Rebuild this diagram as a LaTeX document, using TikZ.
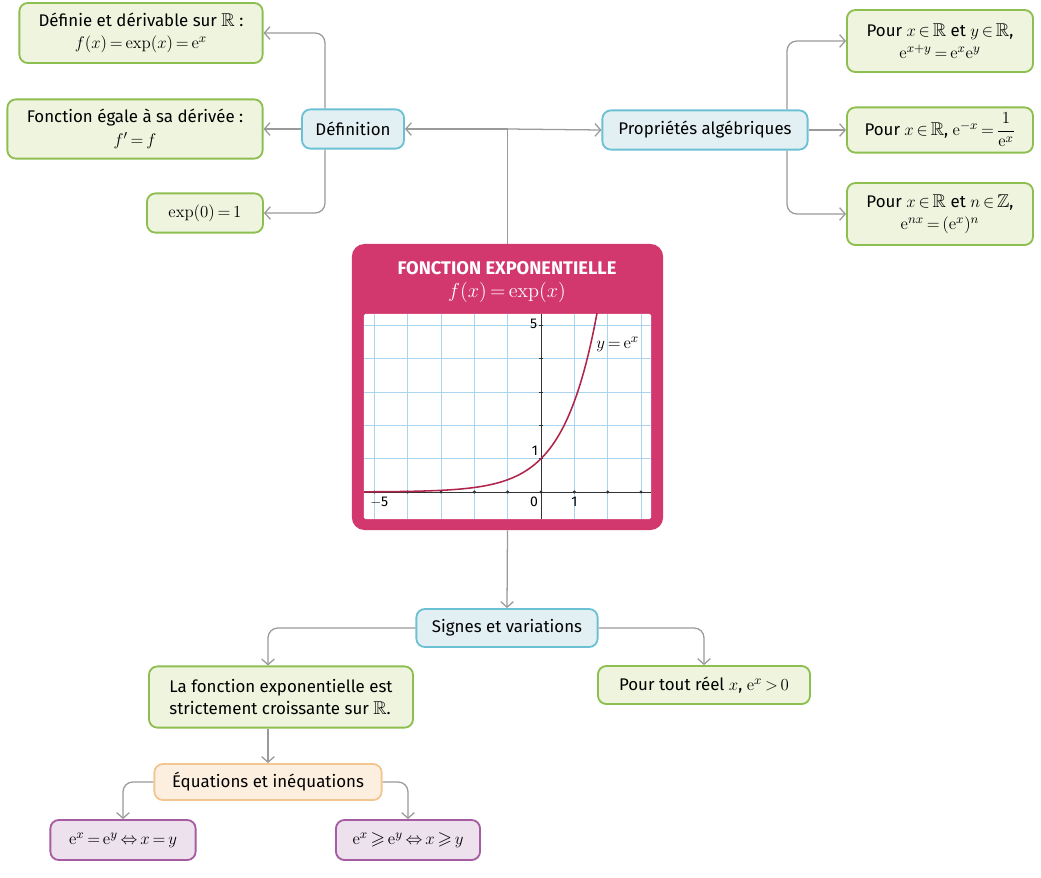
\documentclass[tikz,border=0pt]{standalone}
\usepackage{amsmath,amssymb}
\usepackage[no-math]{fontspec}
\setmainfont{Fira Sans}
\usetikzlibrary{arrows.meta}
\DeclareMathSizes{12}{13.2}{9.5}{7.5}
\DeclareMathSizes{13}{14.3}{10.5}{8.5}
\thickmuskip=3mu plus 2mu minus 1mu

\definecolor{greenfill}{HTML}{EFF4DE}
\definecolor{greenline}{HTML}{8DBE50}
\definecolor{bluefill}{HTML}{E3F0F3}
\definecolor{blueline}{HTML}{6CC0D4}
\definecolor{orangefill}{HTML}{FDEFDF}
\definecolor{orangeline}{HTML}{F3C690}
\definecolor{purplefill}{HTML}{EDE1EE}
\definecolor{purpleline}{HTML}{A65CA2}
\definecolor{magenta}{HTML}{D2386E}
\definecolor{gridblue}{HTML}{A9D5F1}
\definecolor{curvered}{HTML}{B0254C}
\definecolor{linkgray}{HTML}{9A9A9A}

\begin{document}
\begin{tikzpicture}[x=0.025cm, y=-0.025cm,
    every node/.style={font=\fontsize{12}{16}\selectfont, align=center},
    box/.style={rounded corners=6pt, line width=1.3pt, inner sep=2pt},
    green/.style={box, draw=greenline, fill=greenfill},
    blue/.style={box, draw=blueline, fill=bluefill},
    orange/.style={box, draw=orangeline, fill=orangefill},
    purple/.style={box, draw=purpleline, fill=purplefill},
    arr/.style={draw=linkgray, line width=0.9pt, rounded corners=7pt,
        -{Straight Barb[length=4pt,width=9pt]}},
    link/.style={draw=linkgray, line width=0.9pt},
    tick/.style={font=\fontsize{10}{12}\selectfont, inner sep=2pt}]
    \useasboundingbox (0,0) rectangle (1041,877);

    % definition
    \node[blue, minimum width=2.55cm, minimum height=0.98cm] (def) at (353,129) {Définition};
    \node[green, minimum width=6.08cm, minimum height=1.5cm] (d1) at (141,33)
        {Définie et dérivable sur $\mathbb{R}$ :\\ $f(x)=\exp(x)=\mathrm{e}^x$};
    \node[green, minimum width=6.38cm, minimum height=1.48cm] (d2) at (135,129)
        {Fonction égale à sa dérivée :\\ $f'=f$};
    \node[green, minimum width=2.9cm, minimum height=0.98cm] (d3) at (205,213) {$\exp(0)=1$};

    % proprietes
    \node[blue, minimum width=5.13cm, minimum height=0.98cm] (prop) at (705,130) {Propriétés algébriques};
    \node[green, minimum width=4.65cm, minimum height=1.55cm] (r1) at (940,41)
        {Pour $x\in\mathbb{R}$ et $y\in\mathbb{R}$,\\ $\mathrm{e}^{x+y}=\mathrm{e}^x\mathrm{e}^y$};
    \node[green, minimum width=4.65cm, minimum height=1.13cm] (r2) at (940,130)
        {Pour $x\in\mathbb{R}$, $\mathrm{e}^{-x}=\dfrac{1}{\mathrm{e}^x}$};
    \node[green, minimum width=4.65cm, minimum height=1.55cm] (r3) at (940,214)
        {Pour $x\in\mathbb{R}$ et $n\in\mathbb{Z}$,\\ $\mathrm{e}^{nx}=(\mathrm{e}^x)^n$};

    % fonction
    \node[rounded corners=9pt, fill=magenta, minimum width=7.78cm, minimum height=7.15cm] (fct) at (507.5,387) {};
    \node[text=white, font=\fontsize{13}{15}\selectfont\bfseries] (titre) at (507,268) {FONCTION EXPONENTIELLE};
    \node[text=white, font=\fontsize{13}{15}\selectfont] (titref) at (507,292) {$f(x)=\exp(x)$};
    \begin{scope}[shift={(541,492)}, x=0.8333cm, y=0.8333cm]
        \fill[white, rounded corners=1pt] (-5.31,-0.81) rectangle (3.3,5.34);
        \foreach \i in {-5,...,3}
            \draw[gridblue, line width=0.6pt] (\i,-0.81) -- (\i,5.34);
        \foreach \j in {1,...,5}
            \draw[gridblue, line width=0.6pt] (-5.31,\j) -- (3.3,\j);
        \draw[black!80, line width=0.6pt] (-5.31,0) -- (3.3,0);
        \draw[black!80, line width=0.6pt] (0,-0.81) -- (0,5.34);
        \foreach \i in {-5,...,3}
            \fill[black!80] (\i,0) circle (1.2pt);
        \foreach \j in {1,...,5}
            \draw[black!80, line width=0.6pt] (-0.07,\j) -- (0.07,\j);
        \begin{scope}
            \clip (-5.31,-0.81) rectangle (3.3,5.34);
            \draw[curvered, line width=1.1pt] plot[domain=-5.31:1.68, samples=90, smooth] (\x,{exp(\x)});
        \end{scope}
        \node[tick, anchor=north] at (-4.85,-0.05) {$-$5};
        \node[tick, anchor=north east] at (0,-0.05) {0};
        \node[tick, anchor=north] at (1,-0.05) {1};
        \node[tick, anchor=south east] at (0,1) {1};
        \node[tick, anchor=east] at (-0.02,5.05) {5};
        \node (courbe) at (2.3,4.44) {$y=\mathrm{e}^x$};
    \end{scope}

    % signes et variations
    \node[blue, minimum width=4.53cm, minimum height=0.95cm] (signes) at (507,628) {Signes et variations};
    \node[green, minimum width=6.6cm, minimum height=1.53cm, align=left] (crois) at (281,697)
        {La fonction exponentielle est\\ strictement croissante sur $\mathbb{R}$.};
    \node[green, minimum width=5.3cm, minimum height=0.95cm] (pos) at (704,685)
        {Pour tout réel $x$, $\mathrm{e}^x>0$};
    \node[orange, minimum width=5.68cm, minimum height=0.9cm] (equa) at (268,782) {Équations et inéquations};
    \node[purple, minimum width=3.63cm, minimum height=1cm] (eg) at (123,840)
        {$\mathrm{e}^x=\mathrm{e}^y\Leftrightarrow x=y$};
    \node[purple, minimum width=3.6cm, minimum height=1cm] (ineg) at (408,840)
        {$\mathrm{e}^x\geqslant\mathrm{e}^y\Leftrightarrow x\geqslant y$};

    % liens
    \coordinate (hub) at (fct.north |- def.east);
    \coordinate (bx) at (325,0);
    \coordinate (px) at (787,0);
    \draw[link] (fct.north) -- (hub);
    \draw[arr] (hub) -- (def.east);
    \draw[arr] (hub) -- (prop.west);
    \draw[arr] (def.north -| bx) |- (d1.east);
    \draw[arr] (def.west) -- (d2.east);
    \draw[arr] (def.south -| bx) |- (d3.east);
    \draw[arr] (prop.north -| px) |- (r1.west);
    \draw[arr] (prop.east) -- (r2.west);
    \draw[arr] (prop.south -| px) |- (r3.west);
    \draw[arr] (fct.south) -- (signes.north);
    \draw[arr] (signes.west) -| (equa.north |- crois.north);
    \draw[arr] (signes.east) -| (pos.north);
    \draw[arr] (equa.north |- crois.south) -- (equa.north);
    \draw[arr] (equa.west) -| (eg.north);
    \draw[arr] (equa.east) -| (ineg.north);
\end{tikzpicture}
\end{document}
